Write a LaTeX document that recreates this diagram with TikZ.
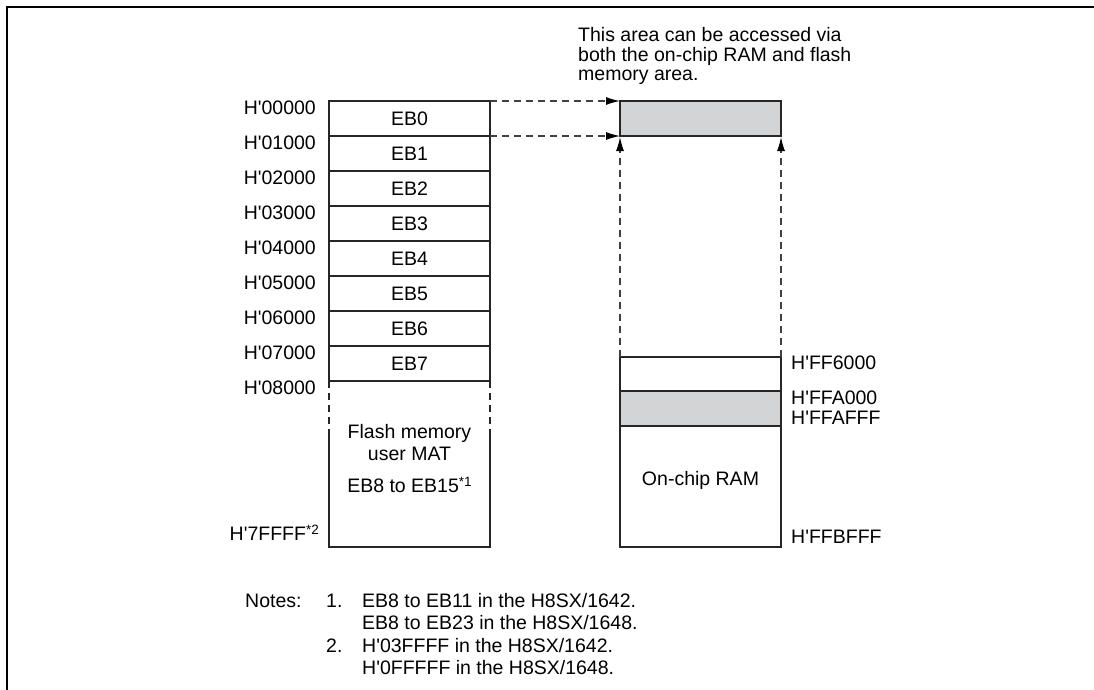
\documentclass[tikz,border=0pt]{standalone}
\usepackage{fontspec}
\setmainfont{Liberation Sans}
\usetikzlibrary{arrows.meta}
\definecolor{shade}{RGB}{211,212,214}
\newcommand{\q}{\textquotesingle}
\newcommand{\supnote}[1]{\raisebox{0.55ex}{\fontsize{13.5}{13}\selectfont #1}}
\tikzset{
  x=1pt, y=-1pt,
  every node/.style={font=\fontsize{19.5}{21}\selectfont, inner sep=0pt},
  boxline/.style={draw=black!85, line width=2pt},
  dashline/.style={draw=black!75, line width=1.2pt, dash pattern=on 7pt off 5pt},
  arr/.style={dashline, -{Latex[length=14pt,width=8pt,color=black]}},
  addr/.style={anchor=east},
  raddr/.style={anchor=west},
}
\begin{document}
\begin{tikzpicture}
\useasboundingbox (0,0) rectangle (1094,690);
% frame
\draw[line width=2.2pt] (7,690) -- (7,7) -- (1094,7);

% top note
\node[anchor=west] (note1) at (578,35) {This area can be accessed via};
\node[anchor=west] (note2) at (578,56) {both the on-chip RAM and flash};
\node[anchor=west] (note3) at (578,77) {memory area.};

% left column rows
\foreach \i in {0,...,7} {
  \pgfmathsetmacro{\yt}{101+35*\i}
  \pgfmathsetmacro{\yb}{101+35*(\i+1)}
  \draw[boxline] (329,\yt) rectangle (490,\yb);
  \node (eb\i) at (409.5,\yt+17.5) {EB\i};
}
\foreach \i/\t in {0/00000,1/01000,2/02000,3/03000,4/04000,5/05000,6/06000,7/07000,8/08000} {
  \pgfmathsetmacro{\yt}{101+35*\i+7}
  \node[addr] (a\i) at (316,\yt) {H\q\t};
}
\coordinate (e0) at (490,101);
\coordinate (e1) at (490,136);

% flash lower region
\draw[boxline] (329,430) -- (329,547) -- (490,547) -- (490,430);
\draw[draw=black!85, line width=2pt, dash pattern=on 7pt off 5pt] (329,381) -- (329,430);
\draw[draw=black!85, line width=2pt, dash pattern=on 7pt off 5pt] (490,381) -- (490,430);
\node (fl1) at (409.5,433) {Flash memory};
\node (fl2) at (409.5,454) {user MAT};
\node (fl3) at (409.5,485) {EB8 to EB15\supnote{*1}};
\node[addr] (aend) at (319,533) {H\q 7FFFF\supnote{*2}};

% shared area
\draw[boxline, fill=shade] (620,101) rectangle (781,136);
\coordinate (s0) at (620,101);
\coordinate (s1) at (620,136);
\coordinate (sl) at (620,137);
\coordinate (sr) at (781,137);

% RAM
\draw[boxline] (620,357) rectangle (781,391);
\draw[boxline, fill=shade] (620,391) rectangle (781,426);
\draw[boxline] (620,426) rectangle (781,547);
\node (ram) at (700.5,480) {On-chip RAM};
\coordinate (rl) at (620,357);
\coordinate (rr) at (781,357);
\node[raddr] (r0) at (791,363) {H\q FF6000};
\node[raddr] (r1) at (791,398) {H\q FFA000};
\node[raddr] (r2) at (791,418) {H\q FFAFFF};
\node[raddr] (r3) at (791,537) {H\q FFBFFF};

% arrows
\draw[arr] (e0) -- (s0);
\draw[arr] (e1) -- (s1);
\draw[arr] (rl) -- (sl);
\draw[arr] (rr) -- (sr);

% notes
\node[anchor=west] (n0) at (245,601) {Notes:};
\node[anchor=west] (n1) at (326,601) {1.};
\node[anchor=west] (n1a) at (362,601) {EB8 to EB11 in the H8SX/1642.};
\node[anchor=west] (n1b) at (362,623) {EB8 to EB23 in the H8SX/1648.};
\node[anchor=west] (n2) at (326,646) {2.};
\node[anchor=west] (n2a) at (362,646) {H\q 03FFFF in the H8SX/1642.};
\node[anchor=west] (n2b) at (362,668) {H\q 0FFFFF in the H8SX/1648.};
\end{tikzpicture}
\end{document}
